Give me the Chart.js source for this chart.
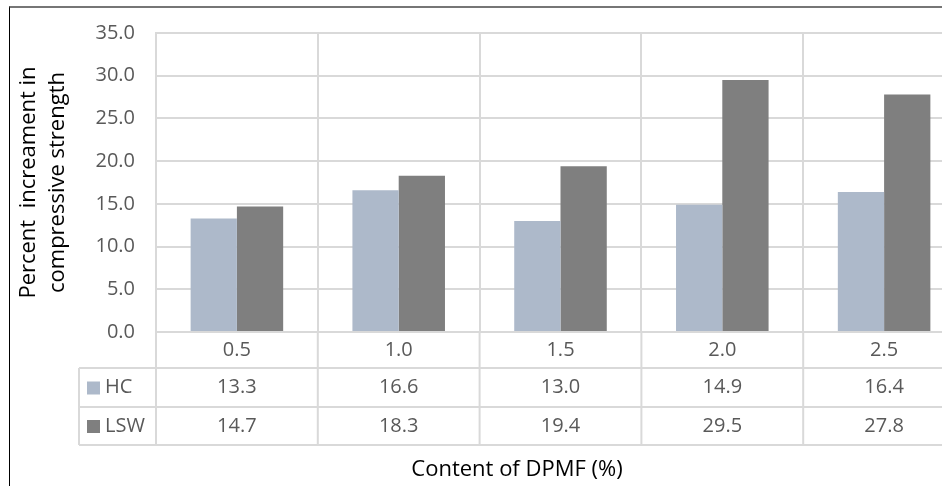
<!DOCTYPE html>
<html>
<head>
<meta charset="utf-8">
<script src="https://cdn.jsdelivr.net/npm/chart.js@4.4.1/dist/chart.umd.min.js"></script>
<style>
  html, body { margin: 0; padding: 0; background: #fff; overflow: hidden; }
  body { width: 942px; height: 486px; position: relative; }
  #chart { position: absolute; left: 0; top: 0; }
  .frame { position: absolute; left: 9px; top: 6px; width: 1000px; height: 500px;
           border-left: 1px solid #000; border-top: 2px solid #767676; pointer-events: none; }
</style>
</head>
<body>
<canvas id="chart" width="980" height="486"></canvas>
<div class="frame"></div>
<script>
const categories = ['0.5', '1.0', '1.5', '2.0', '2.5'];
const hcValues = [13.3, 16.6, 13.0, 14.9, 16.4];
const lswValues = [14.7, 18.3, 19.4, 29.5, 27.8];
const seriesNames = ['HC', 'LSW'];
const yTitle = ['Percent  increament in', 'compressive strength'];
const xTitle = 'Content of DPMF (%)';

const hcColor = '#adb9ca';
const lswColor = '#7f7f7f';
const gridColor = '#d9d9d9';
const textColor = '#595959';
const smallFont = '20px "Open Sans"';

// data table under the plot (Excel style)
const dataTable = {
  id: 'dataTable',
  afterDraw(chart) {
    const { ctx, chartArea, scales: { x } } = chart;
    const n = categories.length;
    const step = x.width / n;
    const rows = [chartArea.bottom, chartArea.bottom + 36, chartArea.bottom + 75, chartArea.bottom + 113];
    const tableLeft = 79;

    ctx.save();
    ctx.strokeStyle = gridColor;
    ctx.lineWidth = 2;
    ctx.beginPath();
    for (let i = 0; i <= n; i++) {
      const px = x.left + i * step;
      ctx.moveTo(px, rows[0]);
      ctx.lineTo(px, rows[3]);
    }
    ctx.moveTo(tableLeft, rows[1]);
    ctx.lineTo(tableLeft, rows[3]);
    for (let r = 1; r <= 3; r++) {
      ctx.moveTo(tableLeft, rows[r]);
      ctx.lineTo(x.right, rows[r]);
    }
    ctx.stroke();

    ctx.font = smallFont;
    ctx.fillStyle = textColor;
    ctx.textAlign = 'center';
    ctx.textBaseline = 'middle';
    const rowValues = [categories, hcValues.map(v => v.toFixed(1)), lswValues.map(v => v.toFixed(1))];
    rowValues.forEach((vals, r) => {
      const cy = (rows[r] + rows[r + 1]) / 2;
      vals.forEach((v, i) => {
        ctx.fillText(v, x.getPixelForValue(i), cy);
      });
    });

    // legend keys
    ctx.textAlign = 'left';
    chart.data.datasets.forEach((ds, k) => {
      const cy = (rows[k + 1] + rows[k + 2]) / 2;
      ctx.fillStyle = ds.backgroundColor;
      ctx.fillRect(tableLeft + 8, cy - 6, 13, 13);
      ctx.fillStyle = textColor;
      ctx.fillText(seriesNames[k], tableLeft + 26, cy);
    });

    // category axis title
    ctx.font = '22px "Open Sans"';
    ctx.fillStyle = '#000';
    ctx.textAlign = 'center';
    ctx.fillText(xTitle, 517, 470);
    ctx.restore();
  }
};

new Chart(document.getElementById('chart'), {
  type: 'bar',
  data: {
    labels: categories,
    datasets: [
      { label: seriesNames[0], data: hcValues, backgroundColor: hcColor },
      { label: seriesNames[1], data: lswValues, backgroundColor: lswColor }
    ]
  },
  options: {
    responsive: false,
    animation: false,
    devicePixelRatio: 1,
    layout: { autoPadding: false, padding: { left: 0, right: 15, top: 29, bottom: 0 } },
    datasets: { bar: { categoryPercentage: 0.572, barPercentage: 1.0 } },
    plugins: {
      legend: { display: false },
      tooltip: { enabled: false }
    },
    scales: {
      x: {
        afterFit: s => { s.height = 154; },
        ticks: { display: false },
        grid: { color: gridColor, lineWidth: 2, drawTicks: false, offset: true },
        border: { display: false }
      },
      y: {
        min: 0,
        max: 35,
        afterFit: s => { s.width = 156; },
        ticks: {
          stepSize: 5,
          padding: 21,
          color: textColor,
          font: { family: 'Open Sans', size: 20 },
          callback: v => v.toFixed(1)
        },
        grid: { color: gridColor, lineWidth: 2, drawTicks: false },
        border: { display: true, color: gridColor, width: 2 },
        title: {
          display: true,
          text: yTitle,
          color: '#000',
          font: { family: 'Open Sans', size: 22, lineHeight: 1.32 },
          padding: { top: 14 }
        }
      }
    }
  },
  plugins: [dataTable]
});
</script>
</body>
</html>
